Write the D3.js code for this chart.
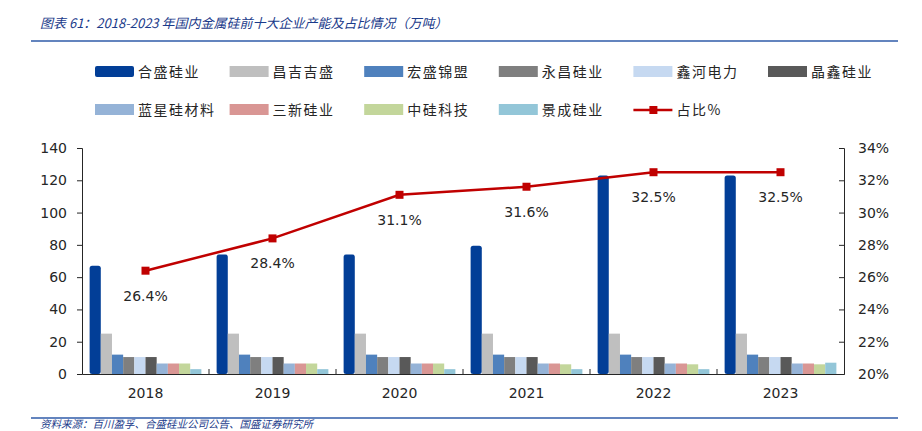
<!DOCTYPE html>
<html>
<head>
<meta charset="utf-8">
<script src="https://cdn.jsdelivr.net/npm/d3@7"></script>
<style>
  body { margin: 0; background: #fff; }
  .tick text { font-family: "DejaVu Sans", Verdana, sans-serif; font-size: 14px; fill: #262626; }
  .legend text { font-family: "Noto Sans CJK SC", sans-serif; font-size: 14px; fill: #262626; letter-spacing: 1.5px; }
  .note { font-family: "Noto Sans CJK SC", sans-serif; font-style: italic; fill: #1A3A8A; }
</style>
</head>
<body>
<div id="chart"></div>
<script>
/******************** DATA ********************/
var years = ['2018', '2019', '2020', '2021', '2022', '2023'];
var companies = ['合盛硅业', '昌吉吉盛', '宏盛锦盟', '永昌硅业', '鑫河电力',
                 '晶鑫硅业', '蓝星硅材料', '三新硅业', '中硅科技', '景成硅业'];
var colors = ['#023E97', '#BFBFBF', '#4F81BD', '#7F7F7F', '#C6D9F1',
              '#595959', '#95B3D7', '#D99694', '#C3D69B', '#93C6D8'];

// 万吨
var hesheng    = [67, 74, 74, 79.5, 123, 123];
var changji    = [25, 25, 25, 25, 25, 25];
var hongsheng  = [12, 12, 12, 12, 12, 12];
var yongchang  = [10.5, 10.5, 10.5, 10.5, 10.5, 10.5];
var xinhe      = [10.5, 10.5, 10.5, 10.5, 10.5, 10.5];
var jingxin    = [10.5, 10.5, 10.5, 10.5, 10.5, 10.5];
var lanxing    = [6.5, 6.5, 6.5, 6.5, 6.5, 6.5];
var sanxin     = [6.5, 6.5, 6.5, 6.5, 6.5, 6.5];
var zhonggui   = [6.5, 6.5, 6.5, 6, 6, 6];
var jingcheng  = [3, 3, 3, 3, 3, 7];
// 占比 %
var share      = [26.4, 28.4, 31.1, 31.6, 32.5, 32.5];

var leftTicks  = [0, 20, 40, 60, 80, 100, 120, 140];
var rightTicks = [20, 22, 24, 26, 28, 30, 32, 34];

var title  = '图表 61：2018-2023 年国内金属硅前十大企业产能及占比情况（万吨）';
var source = '资料来源：百川盈孚、合盛硅业公司公告、国盛证券研究所';

/******************** RENDER ********************/
var series = [hesheng, changji, hongsheng, yongchang, xinhe,
              jingxin, lanxing, sanxin, zhonggui, jingcheng];

var W = 922, H = 431;
var plot = { left: 82, right: 844, top: 148, bottom: 374 };

var svg = d3.select('#chart').append('svg')
    .attr('width', W)
    .attr('height', H);

// header + footer
svg.append('text')
    .attr('class', 'note')
    .attr('x', 40).attr('y', 28)
    .style('font-size', '13px')
    .text(title);
svg.append('line')
    .attr('x1', 31).attr('x2', 898).attr('y1', 41).attr('y2', 41)
    .attr('stroke', '#2F5BA8').attr('stroke-width', 1.6);
svg.append('line')
    .attr('x1', 31).attr('x2', 898).attr('y1', 418).attr('y2', 418)
    .attr('stroke', '#2F5BA8').attr('stroke-width', 1.6);
svg.append('text')
    .attr('class', 'note')
    .attr('x', 40).attr('y', 428)
    .style('font-size', '10.5px')
    .text(source);

// scales
var x0 = d3.scaleBand()
    .domain(years)
    .range([plot.left, plot.right])
    .paddingInner(0.12)
    .paddingOuter(0.06);

var x1 = d3.scaleBand()
    .domain(companies)
    .range([0, x0.bandwidth()]);

var y = d3.scaleLinear().domain([0, 140]).range([plot.bottom, plot.top]);
var y2 = d3.scaleLinear().domain([20, 34]).range([plot.bottom, plot.top]);

// bars
var groups = svg.selectAll('.year')
    .data(years)
    .enter().append('g')
      .attr('class', 'year')
      .attr('transform', function(d) { return 'translate(' + x0(d) + ',0)'; });

groups.selectAll('rect')
    .data(function(d, i) {
      return companies.map(function(c, j) { return { company: c, idx: j, value: series[j][i] }; });
    })
    .enter().append('rect')
      .attr('x', function(d) { return x1(d.company); })
      .attr('y', function(d) { return y(d.value); })
      .attr('width', x1.bandwidth())
      .attr('height', function(d) { return y(0) - y(d.value); })
      .attr('rx', function(d) { return d.idx == 0 ? 2.5 : 0; })
      .style('fill', function(d) { return colors[d.idx]; });

// axes
var leftAxis = svg.append('g')
    .attr('transform', 'translate(' + plot.left + ',0)')
    .call(d3.axisLeft(y).tickValues(leftTicks).tickSize(5).tickPadding(10));

var rightAxis = svg.append('g')
    .attr('transform', 'translate(' + plot.right + ',0)')
    .call(d3.axisRight(y2).tickValues(rightTicks).tickSize(-5).tickPadding(14)
      .tickFormat(function(d) { return d + '%'; }));

var xAxis = svg.append('g')
    .attr('transform', 'translate(0,' + plot.bottom + ')')
    .call(d3.axisBottom(x0).tickSize(0).tickPadding(14));

// inner category separators on x axis
xAxis.selectAll('.sep')
    .data(years.slice(1))
    .enter().append('line')
      .attr('class', 'sep')
      .attr('x1', function(d) { return x0(d) - x0.step() * x0.paddingInner() / 2; })
      .attr('x2', function(d) { return x0(d) - x0.step() * x0.paddingInner() / 2; })
      .attr('y1', 0).attr('y2', -5)
      .attr('stroke', '#262626');

[leftAxis, rightAxis, xAxis].forEach(function(a) {
  a.select('.domain').attr('stroke', '#262626');
  a.selectAll('.tick line').attr('stroke', '#262626');
});

// share line
var cx = function(d, i) { return x0(years[i]) + x0.bandwidth() / 2; };

svg.append('path')
    .datum(share)
    .attr('fill', 'none')
    .attr('stroke', '#C00000')
    .attr('stroke-width', 2.5)
    .attr('d', d3.line().x(cx).y(function(d) { return y2(d); }));

svg.selectAll('.marker')
    .data(share)
    .enter().append('rect')
      .attr('class', 'marker')
      .attr('x', function(d, i) { return cx(d, i) - 4; })
      .attr('y', function(d) { return y2(d) - 4; })
      .attr('width', 8).attr('height', 8)
      .style('fill', '#C00000');

svg.selectAll('.shareLabel')
    .data(share)
    .enter().append('text')
      .attr('class', 'shareLabel')
      .attr('x', cx)
      .attr('y', function(d) { return y2(d) + 30; })
      .attr('text-anchor', 'middle')
      .style('font-family', '"DejaVu Sans", Verdana, sans-serif')
      .style('font-size', '14px')
      .style('fill', '#262626')
      .text(function(d) { return d.toFixed(1) + '%'; });

// legend
var legendItems = companies.concat(['占比%']);
var legend = svg.selectAll('.legend')
    .data(legendItems)
    .enter().append('g')
      .attr('class', 'legend')
      .attr('transform', function(d, i) {
        return 'translate(' + (95 + (i % 6) * 134.6) + ',' + (i < 6 ? 72 : 110) + ')';
      });

legend.each(function(d, i) {
  var g = d3.select(this);
  if (i < companies.length) {
    g.append('rect')
      .attr('x', 0).attr('y', -6)
      .attr('width', 39).attr('height', 11)
      .attr('rx', i == 0 ? 2 : 0)
      .style('fill', colors[i]);
  } else {
    g.append('line')
      .attr('x1', 0).attr('x2', 39).attr('y1', 0).attr('y2', 0)
      .attr('stroke', '#C00000').attr('stroke-width', 2.5);
    g.append('rect')
      .attr('x', 16).attr('y', -4).attr('width', 8).attr('height', 8)
      .style('fill', '#C00000');
  }
  g.append('text')
    .attr('x', 43).attr('y', 5)
    .text(d);
});
</script>
</body>
</html>
